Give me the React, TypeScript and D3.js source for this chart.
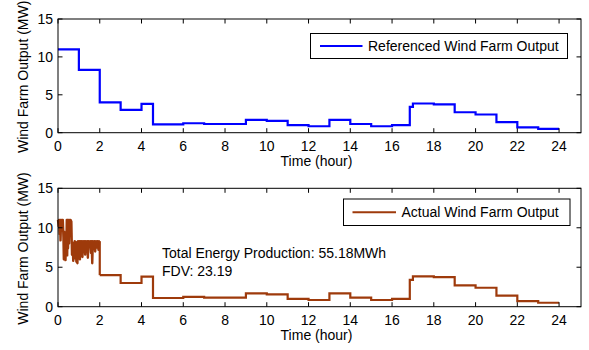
import React from "react";
import * as d3 from "d3";

// Hourly set-points of the referenced wind farm output: [start hour, MW]
const refStarts = [0, 1, 2, 3, 4, 4.55, 6, 7, 9, 10, 11, 12, 13, 14, 15, 16, 16.85, 17, 18, 19, 20, 21, 22, 23];
const refValues = [11, 8.3, 4.0, 3.0, 3.8, 1.1, 1.25, 1.15, 1.7, 1.55, 1.0, 0.85, 1.7, 1.15, 0.85, 1.0, 3.4, 3.85, 3.75, 2.7, 2.4, 1.4, 0.7, 0.5];
const endHour = 24;

// Actual output during the first two hours (fluctuating), then following the set-points
const actualEarlyHours = [0, 0.03, 0.05, 0.08, 0.1, 0.12, 0.15, 0.18, 0.2, 0.23, 0.26, 0.28, 0.3, 0.32, 0.34, 0.36, 0.38, 0.4, 0.42, 0.44, 0.46, 0.48, 0.5, 0.53, 0.56, 0.6, 0.64, 0.67, 0.7, 0.73, 0.76, 0.78, 0.8, 0.83, 0.85, 0.88, 0.9, 0.93, 0.96, 0.99, 1.02, 1.05, 1.08, 1.11, 1.14, 1.17, 1.2, 1.23, 1.26, 1.3, 1.33, 1.37, 1.4, 1.43, 1.46, 1.5, 1.54, 1.58, 1.61, 1.64, 1.67, 1.7, 1.74, 1.78, 1.82, 1.86, 1.9, 1.94, 1.97, 2.0];
const actualEarlyValues = [11, 10.2, 11, 9.2, 11, 8.4, 11, 9.6, 11, 11, 8.8, 6.0, 9.5, 6.4, 8.6, 5.9, 9.0, 7.0, 11, 6.5, 11, 7.4, 11, 8.0, 11, 11, 10.8, 6.6, 8.1, 5.8, 7.6, 6.2, 8.3, 6.1, 8.2, 5.7, 7.2, 5.5, 8.3, 6.4, 8.3, 6.0, 8.3, 6.9, 8.3, 6.3, 8.3, 7.1, 8.3, 6.6, 8.3, 7.3, 8.3, 6.2, 8.3, 7.6, 8.3, 6.8, 8.3, 5.5, 8.3, 7.4, 8.3, 7.0, 8.3, 7.5, 8.3, 7.2, 8.3, 8.3];

const xTicks = [0, 2, 4, 6, 8, 10, 12, 14, 16, 18, 20, 22, 24];
const yTicks = [0, 5, 10, 15];

const W = 589;
const H = 350;
const plotLeft = 58;
const plotRight = 581;
const FONT = "'Liberation Sans', Arial, sans-serif";
const BLUE = "#0000ff";
const BROWN = "#9e3a0b";

type Panel = {
  top: number;
  bottom: number;
};

function stepPath(x: d3.ScaleLinear<number, number>, y: d3.ScaleLinear<number, number>, starts: number[], values: number[], fromIdx: number) {
  const pts: [number, number][] = [];
  for (let i = fromIdx; i < starts.length; i++) pts.push([starts[i], values[i]]);
  pts.push([endHour, values[values.length - 1]]);
  return d3
    .line<[number, number]>()
    .x((d) => x(d[0]))
    .y((d) => y(d[1]))
    .curve(d3.curveStepAfter)(pts);
}

function Axes({ panel, children, legendText, legendColor, legendBox }: { panel: Panel; children: (x: any, y: any) => React.ReactNode; legendText: string; legendColor: string; legendBox: { x0: number; x1: number; y0: number; y1: number; lx0: number; lx1: number } }) {
  const x = d3.scaleLinear().domain([0, 25.05]).range([plotLeft, plotRight]);
  const y = d3.scaleLinear().domain([0, 15]).range([panel.bottom, panel.top]);
  const tickLen = 4.5;
  return (
    <g>
      {children(x, y)}
      <rect x={plotLeft} y={panel.top} width={plotRight - plotLeft} height={panel.bottom - panel.top} fill="none" stroke="#000" strokeWidth={1} />
      {xTicks.map((t) => (
        <g key={"x" + t}>
          <line x1={x(t)} x2={x(t)} y1={panel.bottom} y2={panel.bottom - tickLen} stroke="#000" />
          <line x1={x(t)} x2={x(t)} y1={panel.top} y2={panel.top + tickLen} stroke="#000" />
          <text x={x(t)} y={panel.bottom + 18.5} textAnchor="middle" fontSize={14} fontFamily={FONT} fill="#000">
            {t}
          </text>
        </g>
      ))}
      {yTicks.map((t) => (
        <g key={"y" + t}>
          <line x1={plotLeft} x2={plotLeft + tickLen} y1={y(t)} y2={y(t)} stroke="#000" />
          <line x1={plotRight} x2={plotRight - tickLen} y1={y(t)} y2={y(t)} stroke="#000" />
          <text x={53} y={y(t) + 5} textAnchor="end" fontSize={14} fontFamily={FONT} fill="#000">
            {t}
          </text>
        </g>
      ))}
      <text x={(plotLeft + plotRight) / 2 - 3} y={panel.bottom + 33} textAnchor="middle" fontSize={14} fontFamily={FONT} fill="#000">
        Time (hour)
      </text>
      <text transform={`translate(28,${(panel.top + panel.bottom) / 2 + 1}) rotate(-90)`} textAnchor="middle" fontSize={14} fontFamily={FONT} fill="#000">
        Wind Farm Output (MW)
      </text>
      <rect x={legendBox.x0} y={legendBox.y0} width={legendBox.x1 - legendBox.x0} height={legendBox.y1 - legendBox.y0} fill="#fff" stroke="#000" strokeWidth={1} />
      <line x1={legendBox.lx0} x2={legendBox.lx1} y1={(legendBox.y0 + legendBox.y1) / 2} y2={(legendBox.y0 + legendBox.y1) / 2} stroke={legendColor} strokeWidth={2.2} />
      <text x={legendBox.lx1 + 5.5} y={(legendBox.y0 + legendBox.y1) / 2 + 5} fontSize={14} fontFamily={FONT} fill="#000">
        {legendText}
      </text>
    </g>
  );
}

export default function App() {
  const topPanel: Panel = { top: 19, bottom: 132.7 };
  const botPanel: Panel = { top: 188.3, bottom: 306.7 };

  return (
    <svg width={W} height={H} style={{ position: "absolute", left: 0, top: 0, background: "#fff" }}>
      <rect x={0} y={0} width={W} height={H} fill="#fff" />
      <Axes
        panel={topPanel}
        legendText="Referenced Wind Farm Output"
        legendColor={BLUE}
        legendBox={{ x0: 310.5, x1: 567.5, y0: 33.5, y1: 58.5, lx0: 320, lx1: 362.5 }}
      >
        {(x, y) => <path d={stepPath(x, y, refStarts, refValues, 0) || ""} fill="none" stroke={BLUE} strokeWidth={2.2} />}
      </Axes>
      <Axes
        panel={botPanel}
        legendText="Actual Wind Farm Output"
        legendColor={BROWN}
        legendBox={{ x0: 343.5, x1: 570, y0: 199, y1: 225.5, lx0: 352.5, lx1: 396 }}
      >
        {(x, y) => {
          const early = d3
            .line<number>()
            .x((_, i) => x(actualEarlyHours[i]))
            .y((d) => y(d))(actualEarlyValues);
          const restStart = refStarts.indexOf(2);
          return (
            <g>
              <path d={early || ""} fill="none" stroke={BROWN} strokeWidth={2.4} strokeLinejoin="round" />
              <path d={stepPath(x, y, refStarts, refValues, restStart) || ""} fill="none" stroke={BROWN} strokeWidth={2.2} />
              <line x1={x(2)} x2={x(2)} y1={y(8.3)} y2={y(4.0)} stroke={BROWN} strokeWidth={2.2} />
              <text x={162} y={258.3} fontSize={14} fontFamily={FONT} fill="#000">
                Total Energy Production: 55.18MWh
              </text>
              <text x={162} y={276} fontSize={14} fontFamily={FONT} fill="#000">
                FDV: 23.19
              </text>
            </g>
          );
        }}
      </Axes>
    </svg>
  );
}
